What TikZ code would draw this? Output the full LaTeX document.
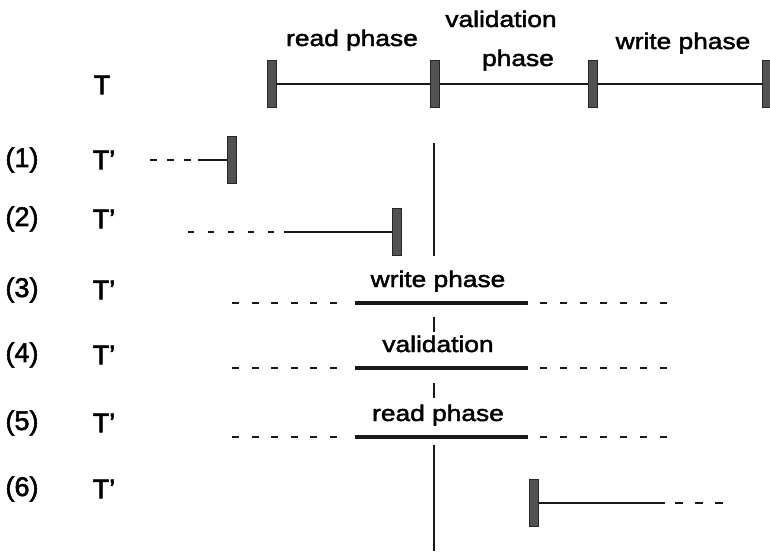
\documentclass[tikz,border=0pt]{standalone}
\usepackage{fontspec}
\setmainfont{Liberation Sans}[FakeBold=2]
\newfontfamily\phasefont{Liberation Sans}[FakeStretch=1.17,FakeBold=2]

\begin{document}
\begin{tikzpicture}[x=1pt,y=-1pt,
  bar/.style={rectangle, draw=black!85, fill=black!68, line width=0.8pt,
              minimum width=9pt, minimum height=47pt, inner sep=0pt},
  tl/.style={line width=2.6pt, black!90},
  pl/.style={line width=3.2pt, black!90},
  dsh/.style={line width=2pt, black!90, dash pattern=on 7pt off 13pt},
  vl/.style={line width=1.8pt, black!90},
  phase/.style={font=\phasefont\fontsize{22.5}{24}\selectfont, inner sep=0pt, anchor=base},
  lab/.style={font=\fontsize{27}{30}\selectfont, inner sep=0pt}]
\useasboundingbox[fill=white] (0,0) rectangle (770,552);

% row labels
\node[lab] (tT) at (102,85) {T};
\foreach \n/\y in {1/160,2/219,3/290,4/355,5/423,6/489}{
  \node[lab] (num\n) at (22,\y) {(\n)};
  \node[lab] (tp\n) at (104,\y) {T'};
}

% transaction T with its three phases
\node[bar] (t0) at (272,84) {};
\node[bar] (t1) at (435,84) {};
\node[bar] (t2) at (593,84) {};
\node[bar] (t3) at (767,84) {};
\draw[tl] (t0) -- (t1) -- (t2) -- (t3);
\node[phase] (lread) at (352,46) {read phase};
\node[phase] (lval) at (501,27) {validation};
\node[phase] (lvalb) at (518,66) {phase};
\node[phase] (lwrite) at (683,49) {write phase};

% case (1)
\node[bar] (b1) at (232,160) {};
\coordinate (d1a) at (150,160);
\coordinate (d1b) at (194,160);
\coordinate (s1) at (198,160);
\draw[dsh, dash pattern=on 7pt off 10pt] (d1a) -- (d1b);
\draw[tl] (s1) -- (b1);

% case (2)
\node[bar] (b2) at (397,232) {};
\coordinate (d2a) at (188,232);
\coordinate (d2b) at (275,232);
\coordinate (s2) at (284,232);
\draw[dsh, dash pattern=on 6pt off 14pt] (d2a) -- (d2b);
\draw[tl] (s2) -- (b2);

% cases (3)-(5): the phase of T' overlapping the validation of T
\foreach \r/\y/\txt in {3/303/write phase,4/368/validation,5/437/read phase}{
  \coordinate (l\r a) at (232,\y);
  \coordinate (l\r b) at (340,\y);
  \coordinate (p\r a) at (355,\y);
  \coordinate (p\r b) at (528,\y);
  \coordinate (r\r a) at (540,\y);
  \coordinate (r\r b) at (668,\y);
  \draw[dsh, dash pattern=on 7pt off 12.6pt] (l\r a) -- (l\r b);
  \draw[pl] (p\r a) -- (p\r b);
  \draw[dsh] (r\r a) -- (r\r b);
  \node[phase] (ph\r) at (438,\y-16) {\txt};
}

% case (6)
\node[bar] (b6) at (534,503) {};
\coordinate (s6) at (665,503);
\coordinate (d6a) at (675,503);
\coordinate (d6b) at (724,503);
\draw[tl] (b6) -- (s6);
\draw[dsh, dash pattern=on 8pt off 12pt] (d6a) -- (d6b);

% start of validation of T, carried down through the cases
\coordinate (v1a) at (434,143);
\coordinate (v1b) at (434,256);
\coordinate (v2a) at (434,317);
\coordinate (v2b) at (434,332);
\coordinate (v3a) at (434,383);
\coordinate (v3b) at (434,398);
\coordinate (v4a) at (434,445);
\coordinate (v4b) at (434,551);
\draw[vl] (v1a) -- (v1b);
\draw[vl] (v2a) -- (v2b);
\draw[vl] (v3a) -- (v3b);
\draw[vl] (v4a) -- (v4b);
\end{tikzpicture}
\end{document}
